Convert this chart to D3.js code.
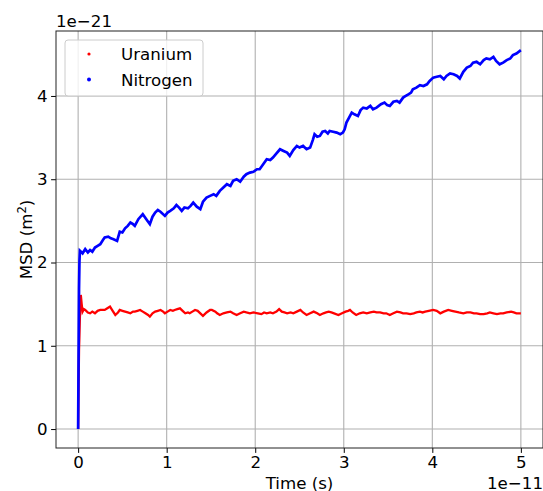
<!DOCTYPE html>
<html><head><meta charset="utf-8">
<script src="https://cdn.jsdelivr.net/npm/d3@7"></script>
<style>
html,body{margin:0;padding:0;background:#fff;}
svg text{font-family:"DejaVu Sans",sans-serif;fill:#000;}
</style></head>
<body><svg id="chart" width="543" height="491"></svg>
<script>
// Time in units of 1e-11 s, MSD in units of 1e-21 m^2
const nitrogenTime = [0,0.005,0.01,0.015,0.02,0.05,0.08,0.11,0.135,0.16,0.19,0.22,0.25,0.28,0.30,0.34,0.37,0.40,0.44,0.47,0.50,0.53,0.56,0.59,0.62,0.64,0.68,0.73,0.77,0.81,0.84,0.87,0.90,0.93,0.98,1.01,1.04,1.08,1.11,1.14,1.17,1.20,1.24,1.27,1.30,1.34,1.38,1.41,1.45,1.49,1.53,1.56,1.60,1.64,1.68,1.72,1.75,1.79,1.83,1.87,1.90,1.94,1.98,2.02,2.05,2.09,2.13,2.17,2.20,2.24,2.28,2.32,2.36,2.39,2.43,2.47,2.50,2.54,2.58,2.62,2.65,2.67,2.70,2.73,2.76,2.79,2.82,2.84,2.88,2.92,2.96,2.99,3.01,3.03,3.06,3.09,3.12,3.16,3.19,3.22,3.26,3.30,3.33,3.37,3.42,3.46,3.49,3.52,3.56,3.60,3.63,3.67,3.70,3.73,3.76,3.78,3.82,3.86,3.90,3.94,3.97,4.01,4.05,4.09,4.13,4.16,4.20,4.24,4.28,4.31,4.35,4.39,4.43,4.46,4.50,4.54,4.58,4.61,4.65,4.69,4.72,4.76,4.80,4.84,4.88,4.91,4.95,5.00];
const nitrogenMSD = [0,0.85,1.68,2.02,2.14,2.11,2.16,2.12,2.15,2.13,2.18,2.20,2.22,2.27,2.30,2.31,2.29,2.28,2.26,2.37,2.36,2.41,2.44,2.48,2.46,2.44,2.52,2.58,2.52,2.46,2.55,2.60,2.63,2.61,2.56,2.60,2.62,2.65,2.69,2.66,2.62,2.66,2.65,2.68,2.72,2.67,2.64,2.73,2.78,2.80,2.82,2.80,2.86,2.90,2.94,2.92,2.98,3.00,2.97,3.03,3.06,3.08,3.09,3.12,3.12,3.18,3.24,3.23,3.26,3.31,3.36,3.34,3.32,3.28,3.35,3.40,3.38,3.40,3.36,3.38,3.47,3.54,3.51,3.52,3.57,3.58,3.55,3.58,3.57,3.56,3.54,3.56,3.60,3.68,3.74,3.80,3.78,3.76,3.83,3.86,3.85,3.88,3.84,3.86,3.90,3.92,3.89,3.88,3.93,3.94,3.92,3.98,4.00,4.02,4.04,4.08,4.10,4.13,4.12,4.14,4.18,4.22,4.23,4.24,4.20,4.24,4.27,4.26,4.24,4.21,4.29,4.34,4.36,4.40,4.41,4.38,4.43,4.45,4.44,4.47,4.42,4.38,4.40,4.43,4.45,4.49,4.51,4.55];

const uraniumTime = [0,0.005,0.01,0.02,0.03,0.04,0.05,0.065,0.08,0.11,0.135,0.16,0.19,0.22,0.25,0.30,0.33,0.36,0.39,0.42,0.45,0.47,0.50,0.53,0.56,0.59,0.62,0.64,0.67,0.70,0.73,0.76,0.79,0.81,0.84,0.87,0.90,0.93,0.96,0.98,1.01,1.04,1.07,1.09,1.12,1.15,1.18,1.21,1.24,1.26,1.29,1.32,1.35,1.38,1.41,1.45,1.49,1.51,1.55,1.57,1.60,1.64,1.68,1.72,1.75,1.79,1.83,1.87,1.90,1.94,1.98,2.03,2.07,2.10,2.13,2.17,2.20,2.24,2.27,2.30,2.33,2.36,2.40,2.43,2.47,2.51,2.54,2.58,2.62,2.66,2.70,2.73,2.77,2.80,2.83,2.86,2.89,2.94,2.98,3.02,3.05,3.07,3.10,3.14,3.18,3.22,3.26,3.30,3.34,3.37,3.41,3.45,3.48,3.52,3.56,3.60,3.64,3.67,3.71,3.75,3.79,3.82,3.86,3.89,3.92,3.96,4.01,4.05,4.09,4.13,4.18,4.22,4.26,4.30,4.35,4.39,4.43,4.47,4.50,4.54,4.58,4.62,4.65,4.69,4.73,4.77,4.80,4.84,4.89,4.92,4.95,5.00];
const uraniumMSD = [0,0.5,0.95,1.35,1.61,1.50,1.41,1.44,1.43,1.40,1.39,1.41,1.39,1.42,1.43,1.43,1.45,1.47,1.42,1.37,1.40,1.43,1.42,1.41,1.40,1.39,1.41,1.41,1.42,1.43,1.41,1.39,1.37,1.35,1.39,1.41,1.42,1.43,1.41,1.39,1.41,1.43,1.42,1.43,1.44,1.45,1.42,1.39,1.40,1.39,1.41,1.43,1.42,1.39,1.36,1.40,1.43,1.43,1.41,1.39,1.37,1.39,1.40,1.41,1.39,1.37,1.39,1.41,1.40,1.39,1.40,1.39,1.38,1.40,1.39,1.40,1.39,1.41,1.44,1.41,1.40,1.39,1.40,1.39,1.41,1.43,1.40,1.37,1.39,1.41,1.39,1.37,1.39,1.40,1.41,1.40,1.39,1.37,1.39,1.41,1.42,1.43,1.40,1.37,1.39,1.40,1.39,1.40,1.41,1.40,1.40,1.39,1.39,1.37,1.39,1.41,1.40,1.39,1.39,1.38,1.39,1.40,1.41,1.40,1.41,1.42,1.43,1.42,1.39,1.41,1.43,1.42,1.41,1.40,1.39,1.40,1.40,1.39,1.39,1.38,1.38,1.39,1.40,1.39,1.38,1.39,1.39,1.40,1.41,1.40,1.39,1.39];

const xTicks = [0,1,2,3,4,5];
const yTicks = [0,1,2,3,4];
const seriesNames = ["Uranium","Nitrogen"];
const seriesColors = ["#ff0000","#0000ff"];

const svg = d3.select("#chart");
const L = 56, R = 543, T = 31, B = 448;
const FS = 16.67;

const x = d3.scaleLinear().domain([-0.25, 5.25]).range([L, R]);
const y = d3.scaleLinear().domain([-0.2275, 4.78]).range([B, T]);

// grid
const grid = svg.append("g");
grid.selectAll(".gx").data(xTicks).enter().append("line")
  .attr("x1", d => x(d)).attr("x2", d => x(d)).attr("y1", T).attr("y2", B)
  .attr("stroke", "#b0b0b0").attr("stroke-width", 1.1);
grid.selectAll(".gy").data(yTicks).enter().append("line")
  .attr("y1", d => y(d)).attr("y2", d => y(d)).attr("x1", L).attr("x2", R)
  .attr("stroke", "#b0b0b0").attr("stroke-width", 1.1);

// clip
svg.append("clipPath").attr("id", "clip").append("rect")
  .attr("x", L).attr("y", T).attr("width", R - L).attr("height", B - T);

const plot = svg.append("g").attr("clip-path", "url(#clip)");
const series = [
  {t: uraniumTime, v: uraniumMSD, c: seriesColors[0], w: 2.3},
  {t: nitrogenTime, v: nitrogenMSD, c: seriesColors[1], w: 2.7}
];
const line = d3.line().x(d => x(d[0])).y(d => y(d[1]));
series.forEach(s => {
  const pts = s.t.map((t, i) => [t, s.v[i]]);
  plot.append("path").datum(pts).attr("d", line)
    .attr("fill", "none").attr("stroke", s.c).attr("stroke-width", s.w)
    .attr("stroke-linejoin", "miter");
});

// axes
const xAxis = d3.axisBottom(x).tickValues(xTicks).tickSize(4.9).tickPadding(3.5).tickFormat(d3.format("d"));
const yAxis = d3.axisLeft(y).tickValues(yTicks).tickSize(4.9).tickPadding(3.5).tickFormat(d3.format("d"));
const gx = svg.append("g").attr("transform", `translate(0,${B})`).call(xAxis);
const gy = svg.append("g").attr("transform", `translate(${L},0)`).call(yAxis);
[gx, gy].forEach(g => {
  g.select(".domain").remove();
  g.selectAll("line").attr("stroke", "#000").attr("stroke-width", 1);
  g.selectAll("text").attr("font-size", FS).attr("font-family", "DejaVu Sans").attr("fill", "#000");
});

// spines
svg.append("rect").attr("x", L).attr("y", T).attr("width", R - L).attr("height", B - T)
  .attr("fill", "none").attr("stroke", "#222").attr("stroke-width", 1);

// labels
svg.append("text").attr("x", (L + R) / 2).attr("y", 488.5).attr("text-anchor", "middle")
  .attr("font-size", FS).text("Time (s)");
svg.append("text").attr("x", R).attr("y", 488.5).attr("text-anchor", "end")
  .attr("font-size", FS).text("1e\u221211");
svg.append("text").attr("x", L).attr("y", 27.2).attr("text-anchor", "start")
  .attr("font-size", FS).text("1e\u221221");
const yl = svg.append("text").attr("transform", `translate(31.5,${(T + B) / 2}) rotate(-90)`)
  .attr("text-anchor", "middle").attr("font-size", FS);
yl.append("tspan").text("MSD (m");
yl.append("tspan").attr("font-size", FS * 0.7).attr("dy", -6).text("2");
yl.append("tspan").attr("dy", 6).text(")");

// legend
const lg = svg.append("g");
lg.append("rect").attr("x", 65).attr("y", 40).attr("width", 138).attr("height", 56)
  .attr("rx", 3).attr("fill", "#fff").attr("fill-opacity", 0.8)
  .attr("stroke", "#cccccc").attr("stroke-width", 1);
seriesNames.forEach((n, i) => {
  const cy = 54 + i * 25.5;
  lg.append("circle").attr("cx", 89).attr("cy", cy).attr("r", i === 0 ? 1.6 : 2).attr("fill", seriesColors[i]);
  lg.append("text").attr("x", 121).attr("y", cy + 6).attr("font-size", FS).text(n);
});
</script></body></html>
